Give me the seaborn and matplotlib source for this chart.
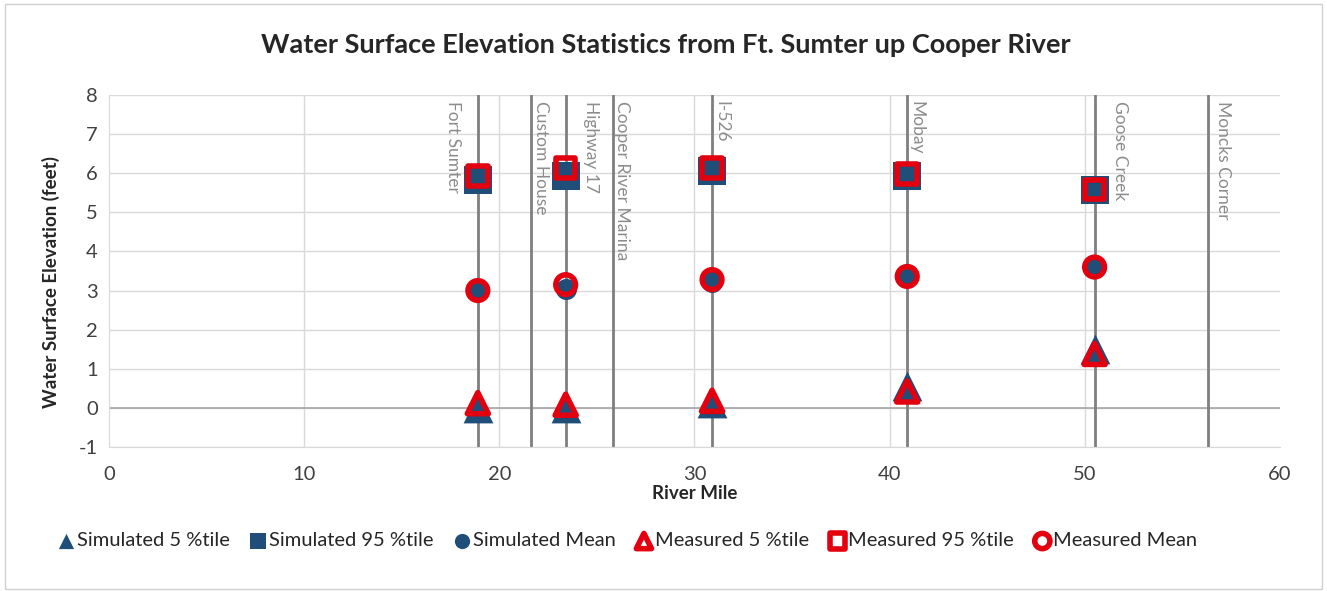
import numpy as np
import pandas as pd
import matplotlib
matplotlib.use("Agg")
import matplotlib.pyplot as plt
import seaborn as sns

# station locations along the river
stations = ["Fort Sumter", "Custom House", "Highway 17", "Cooper River Marina",
            "I-526", "Mobay", "Goose Creek", "Moncks Corner"]
station_mile = [18.9, 21.6, 23.4, 25.8, 30.9, 40.9, 50.5, 56.3]

# gauges with statistics
river_mile = [18.9, 23.4, 30.9, 40.9, 50.5]
sim_p5 = [0.0, 0.0, 0.12, 0.55, 1.5]
sim_p95 = [5.83, 5.93, 6.05, 5.92, 5.58]
sim_mean = [3.0, 3.05, 3.22, 3.36, 3.6]
meas_p5 = [0.12, 0.08, 0.18, 0.42, 1.38]
meas_p95 = [5.93, 6.13, 6.13, 5.98, 5.58]
meas_mean = [3.0, 3.15, 3.28, 3.36, 3.6]

sns.set_style("white")
plt.rcParams['font.family'] = ['Lato', 'DejaVu Sans']
plt.rcParams['axes.unicode_minus'] = False

blue = "#1F4E79"
red = "#E3000F"
grid = "#d9d9d9"
line_gray = "#7f7f7f"

fig = plt.figure(figsize=(13.27, 5.91), dpi=100)
ax = fig.add_axes([0.0821, 0.2437, 0.8825, 0.5956])

# gridlines
for yv in range(-1, 9):
    ax.axhline(yv, color=grid, lw=1, zorder=0)
for xv in range(10, 60, 10):
    ax.axvline(xv, color=grid, lw=1, zorder=0)
ax.axhline(0, color="#a6a6a6", lw=1.2, zorder=0.5)

# station lines + labels (label offset from line, in miles)
label_off = {"Fort Sumter": -0.85, "Custom House": 0.15, "Highway 17": 0.9,
             "Cooper River Marina": 0.1, "I-526": 0.05, "Mobay": 0.05,
             "Goose Creek": 0.9, "Moncks Corner": 0.35}
for name, m in zip(stations, station_mile):
    ax.axvline(m, color=line_gray, lw=2, zorder=1)
    off = label_off[name]
    ax.text(m + off, 7.85, name, rotation=-90, ha="right" if off < 0 else "left",
            va="top", color="#8c8c8c", fontsize=12.5, zorder=2)

df = pd.DataFrame({"mile": river_mile, "sim_p5": sim_p5, "sim_p95": sim_p95,
                   "sim_mean": sim_mean, "meas_p5": meas_p5,
                   "meas_p95": meas_p95, "meas_mean": meas_mean})

sns.scatterplot(data=df, x="mile", y="sim_p5", marker="^", s=460, color=blue,
                edgecolor=blue, linewidth=0, ax=ax, zorder=3, label="Simulated 5 %tile")
sns.scatterplot(data=df, x="mile", y="sim_p95", marker="s", s=420, color=blue,
                edgecolor=blue, linewidth=0, ax=ax, zorder=3, label="Simulated 95 %tile")
sns.scatterplot(data=df, x="mile", y="sim_mean", marker="o", s=230, color=blue,
                edgecolor=blue, linewidth=0, ax=ax, zorder=3, label="Simulated Mean")
sns.scatterplot(data=df, x="mile", y="meas_p5", marker="^", s=230, facecolor="none",
                edgecolor=red, linewidth=4, ax=ax, zorder=4, label="Measured 5 %tile")
sns.scatterplot(data=df, x="mile", y="meas_p95", marker="s", s=200, facecolor="none",
                edgecolor=red, linewidth=4, ax=ax, zorder=4, label="Measured 95 %tile")
sns.scatterplot(data=df, x="mile", y="meas_mean", marker="o", s=200, facecolor="none",
                edgecolor=red, linewidth=4, ax=ax, zorder=4, label="Measured Mean")

ax.set_xlim(0, 60)
ax.set_ylim(-1, 8)
ax.set_xticks(range(0, 70, 10))
ax.set_yticks(range(-1, 9))
ax.tick_params(axis="both", labelsize=14.5, colors="#404040", length=0)
ax.tick_params(axis="x", pad=14)
ax.tick_params(axis="y", pad=8)
for s in ["top", "right"]:
    ax.spines[s].set_visible(False)
for s in ["left", "bottom"]:
    ax.spines[s].set_color(grid)
ax.set_xlabel("River Mile", fontsize=13.5, fontweight="bold", labelpad=1)
ax.set_ylabel("Water Surface Elevation (feet)", fontsize=13.5, fontweight="bold")
ax.yaxis.set_label_coords(-0.042, 0.47)

handles, labels = ax.get_legend_handles_labels()
ax.get_legend().remove()
leg = fig.legend(handles, labels, loc="center", bbox_to_anchor=(0.473, 0.085), ncol=6,
                 frameon=False, fontsize=14.5, handletextpad=0.15, columnspacing=1.0,
                 handlelength=0.8)
for h in leg.legend_handles:
    h.set_sizes([120])

fig.suptitle("Water Surface Elevation Statistics from Ft. Sumter up Cooper River",
             fontsize=19.5, fontweight="bold", x=0.502, y=0.945)

# outer chart border
fig.patches.append(plt.Rectangle((0.004, 0.004), 0.992, 0.99, transform=fig.transFigure,
                                 fill=False, edgecolor="#d0d0d0", lw=1))

fig.savefig("out.png", dpi=100)
